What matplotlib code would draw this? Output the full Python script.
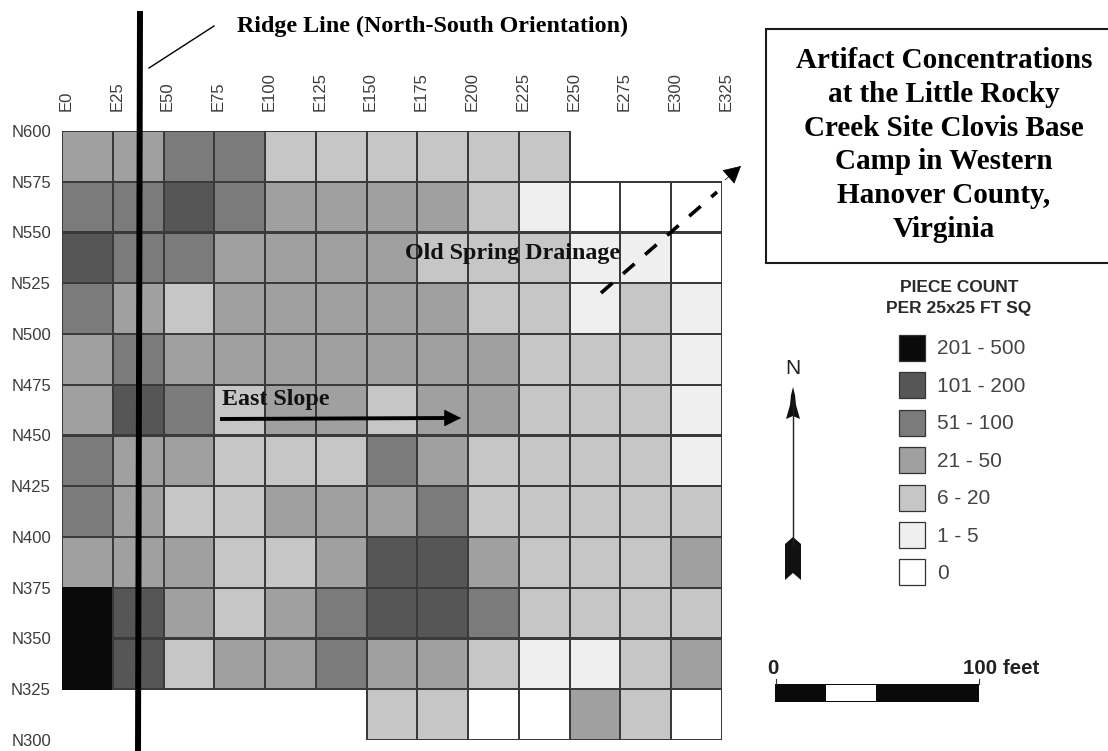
import numpy as np
import matplotlib
matplotlib.use('Agg')
import matplotlib.pyplot as plt
from matplotlib.colors import ListedColormap, BoundaryNorm
from matplotlib.patches import Polygon, Rectangle
from matplotlib.transforms import ScaledTranslation

east = [0, 25, 50, 75, 100, 125, 150, 175, 200, 225, 250, 275, 300, 325]
north = [600, 575, 550, 525, 500, 475, 450, 425, 400, 375, 350, 325, 300]
e_labels = ['E0', 'E25', 'E50', 'E75', 'E100', 'E125', 'E150', 'E175', 'E200', 'E225', 'E250', 'E275', 'E300', 'E325']
n_labels = ['N600', 'N575', 'N550', 'N525', 'N500', 'N475', 'N450', 'N425', 'N400', 'N375', 'N350', 'N325', 'N300']

# piece count class per square, -1 = not dug. 0 is the "0" class, 6 is "201 - 500"
row_n600 = [3, 3, 4, 4, 2, 2, 2, 2, 2, 2, -1, -1, -1]
row_n575 = [4, 4, 5, 4, 3, 3, 3, 3, 2, 1, 0, 0, 0]
row_n550 = [5, 4, 4, 3, 3, 3, 3, 2, 2, 2, 1, 1, 0]
row_n525 = [4, 3, 2, 3, 3, 3, 3, 3, 2, 2, 1, 2, 1]
row_n500 = [3, 4, 3, 3, 3, 3, 3, 3, 3, 2, 2, 2, 1]
row_n475 = [3, 5, 4, 2, 3, 3, 2, 3, 3, 2, 2, 2, 1]
row_n450 = [4, 3, 3, 2, 2, 2, 4, 3, 2, 2, 2, 2, 1]
row_n425 = [4, 3, 2, 2, 3, 3, 3, 4, 2, 2, 2, 2, 2]
row_n400 = [3, 3, 3, 2, 2, 3, 5, 5, 3, 2, 2, 2, 3]
row_n375 = [6, 5, 3, 2, 3, 4, 5, 5, 4, 2, 2, 2, 2]
row_n350 = [6, 5, 2, 3, 3, 4, 3, 3, 2, 1, 1, 2, 3]
row_n325 = [-1, -1, -1, -1, -1, -1, 2, 2, 0, 0, 3, 2, 0]

class_colors = ['#ffffff', '#efefef', '#c6c6c6', '#a0a0a0', '#7b7b7b', '#565656', '#0a0a0a']
class_labels = ['0', '1 - 5', '6 - 20', '21 - 50', '51 - 100', '101 - 200', '201 - 500']

W, H = 1108, 751
fig = plt.figure(figsize=(W / 100, H / 100), dpi=100)
serif = 'Liberation Serif'
sans = 'Liberation Sans'

# the grid
ax = fig.add_axes([62 / W, 1 - 740 / H, 660 / W, 609 / H])
grid = np.array([row_n600, row_n575, row_n550, row_n525, row_n500, row_n475,
                 row_n450, row_n425, row_n400, row_n375, row_n350, row_n325])
grid = np.ma.masked_less(grid, 0)
cmap = ListedColormap(class_colors)
norm = BoundaryNorm(np.arange(-0.5, 7.5, 1), cmap.N)
# pcolor leaves the masked squares out, pcolormesh would still outline them
mesh = ax.pcolor(east, north, grid, cmap=cmap, norm=norm, linewidth=0.75)
cells = grid.compressed()
mesh.set_edgecolors(['#0a0a0a' if c == 6 else '#3a3a3a' for c in cells])
ax.set_xlim(0, 325)
ax.set_ylim(300, 600)
ax.xaxis.tick_top()
ax.set_xticks(east)
ax.set_xticklabels(e_labels, rotation=90, fontsize=12, family=sans, color='#3c3c3c')
ax.set_yticks(north)
ax.set_yticklabels(n_labels, fontsize=12, family=sans, color='#3c3c3c')
ax.tick_params(axis='x', length=0, pad=14.5)
ax.tick_params(axis='y', length=0, pad=8)
for lbl in ax.get_xticklabels():
    lbl.set_transform(lbl.get_transform() + ScaledTranslation(4 / 100, 0, fig.dpi_scale_trans))
for s in ax.spines.values():
    s.set_visible(False)

# everything else is placed in image pixels
ov = fig.add_axes([0, 0, 1, 1])
ov.set_xlim(0, W)
ov.set_ylim(H, 0)
ov.axis('off')
ov.patch.set_alpha(0)

# ridge line
ov.plot([140, 138], [11, 751], color='black', lw=4.3, solid_capstyle='butt')
ov.plot([149, 214], [68, 26], color='black', lw=1)
ov.text(237, 26, 'Ridge Line (North-South Orientation)', family=serif, weight='bold',
        fontsize=17.3, va='center', color='black')

# title box
ov.add_patch(Rectangle((766, 29), 360, 234, fc='white', ec='#1a1a1a', lw=1.5, clip_on=True))
ov.text(944, 145, 'Artifact Concentrations\nat the Little Rocky\nCreek Site Clovis Base\nCamp in Western\nHanover County,\nVirginia',
        family=serif, weight='bold', fontsize=21, ha='center', va='center',
        linespacing=1.33, color='black')

# slope and drainage labels
ov.text(222, 400, 'East Slope', family=serif, weight='bold', fontsize=17.3, va='center', color='#111111')
ov.plot([220, 447], [419, 418], color='black', lw=2.8, solid_capstyle='butt')
ov.annotate('', xy=(461, 418), xytext=(445, 418),
            arrowprops=dict(arrowstyle='-|>,head_length=0.8,head_width=0.4', color='black', lw=0.5,
                            shrinkA=0, shrinkB=0, mutation_scale=14))
ov.text(405, 254, 'Old Spring Drainage', family=serif, weight='bold', fontsize=17.3, va='center', color='#111111')
ov.plot([601, 717], [293, 192], color='black', lw=2.6, linestyle=(0, (4.2, 3.9)), dash_capstyle='butt')
ov.annotate('', xy=(741, 166), xytext=(725, 180),
            arrowprops=dict(arrowstyle='-|>,head_length=0.75,head_width=0.4', color='black', lw=0.5,
                            shrinkA=0, shrinkB=0, mutation_scale=15))

# legend
ov.text(959, 287, 'PIECE COUNT', family=sans, weight='bold', fontsize=12.5, ha='center', va='center', color='#2a2a2a')
ov.text(959, 308, 'PER 25x25 FT SQ', family=sans, weight='bold', fontsize=12.5, ha='center', va='center', color='#2a2a2a')
for i, (c, t) in enumerate(zip(class_colors[::-1], class_labels[::-1])):
    y0 = 335 + i * 37.4
    ov.add_patch(Rectangle((899, y0), 26, 26, fc=c, ec='#333333', lw=0.9))
    ov.text(937, y0 + 14, t, family=sans, fontsize=15, va='center', color='#444444')

# north arrow
ov.text(793, 368, 'N', family=sans, fontsize=15, ha='center', va='center', color='#222222')
ov.plot([793, 793], [400, 545], color='#222222', lw=1)
ov.add_patch(Polygon([(793, 387), (795, 395), (796, 405), (800, 419), (793, 416), (786, 419), (790, 405), (791, 395)],
                     fc='#111111', ec='none'))
ov.add_patch(Polygon([(793, 537), (801, 544), (801, 580), (793, 573), (785, 580), (785, 544)], fc='#111111', ec='none'))

# scale bar
ov.add_patch(Rectangle((775, 684), 204, 18, fc='#0a0a0a', ec='none'))
ov.add_patch(Rectangle((826, 685), 50, 16, fc='white', ec='none'))
ov.plot([775.5, 775.5], [679, 684], color='#333333', lw=0.8)
ov.plot([978.5, 978.5], [679, 684], color='#333333', lw=0.8)
ov.text(773, 668, '0', family=sans, weight='bold', fontsize=14.8, ha='center', va='center', color='#222222')
ov.text(963, 668, '100 feet', family=sans, weight='bold', fontsize=14.8, va='center', color='#222222')

fig.savefig('out.png', dpi=100, facecolor='white')
